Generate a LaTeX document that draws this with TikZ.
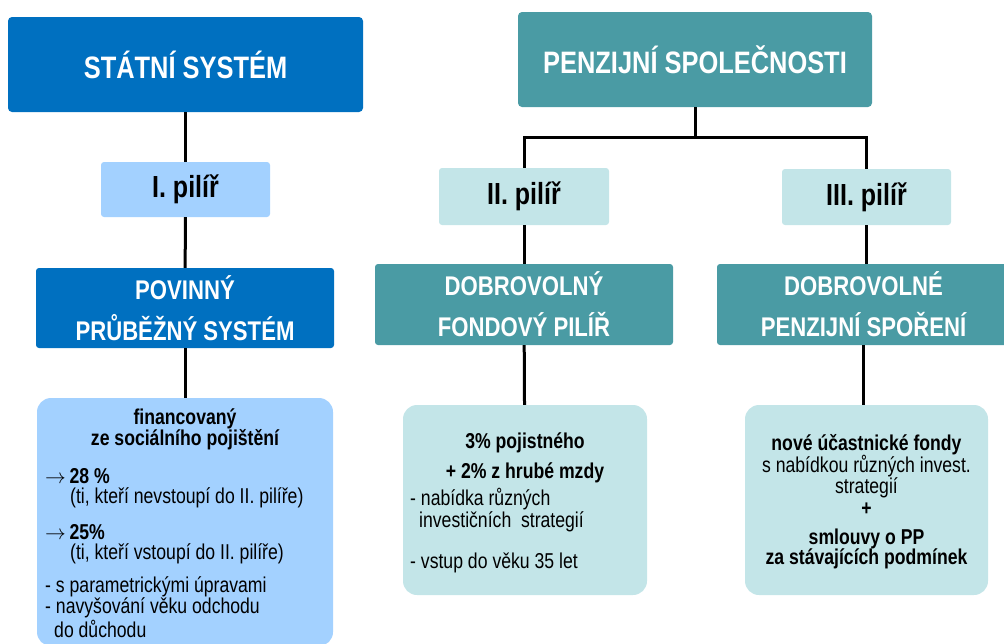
\documentclass[tikz,border=0pt]{standalone}
\usepackage{fontspec}
\setmainfont{Liberation Sans}[FakeStretch=0.82]
\usepackage{tikz}

\definecolor{modra}{HTML}{0070C0}
\definecolor{svetlemodra}{HTML}{A3D1FF}
\definecolor{tyrkys}{HTML}{4A9BA4}
\definecolor{svetletyrkys}{HTML}{C3E5E8}

\begin{document}
\begin{tikzpicture}[x=1pt,y=-1pt,
  hlava/.style={fill=#1, text=white, inner sep=0pt, rounded corners=4pt,
    font=\bfseries\fontsize{31}{36}\selectfont},
  pilir/.style={fill=#1, inner sep=0pt, rounded corners=3pt,
    font=\bfseries\fontsize{30.5}{34}\selectfont},
  system/.style={fill=#1, text=white, inner sep=0pt, rounded corners=3pt, align=center,
    font=\bfseries\fontsize{27}{41}\selectfont},
  obsah/.style={fill=#1, inner sep=0pt, rounded corners=14pt},
  txt/.style={inner sep=0pt, font=\fontsize{21.5}{20}\selectfont},
  spoj/.style={line width=3pt}]
\useasboundingbox (0,0) rectangle (1004,643);

% statni pilir
\node[hlava=modra, minimum width=355, minimum height=95] (statni) at (185.5,64.5) {STÁTNÍ SYSTÉM};
\node[pilir=svetlemodra, minimum width=169, minimum height=55] (pilI) at (185.5,189.5) {I. pilíř};
\node[system=modra, minimum width=298, minimum height=80] (povinny) at (185,308) {POVINNÝ\\PRŮBĚŽNÝ SYSTÉM};
\node[obsah=svetlemodra, minimum width=296, minimum height=248] (finI) at (185,522) {};

% penzijni spolecnosti
\node[hlava=tyrkys, minimum width=354, minimum height=95] (penzijni) at (695,59.5) {PENZIJNÍ SPOLEČNOSTI};
\node[pilir=svetletyrkys, minimum width=170, minimum height=57] (pilII) at (524,196.5) {II. pilíř};
\node[pilir=svetletyrkys, minimum width=169, minimum height=56] (pilIII) at (866.5,197) {III. pilíř};
\node[system=tyrkys, minimum width=298, minimum height=81] (fondovy) at (524,304.5) {DOBROVOLNÝ\\FONDOVÝ PILÍŘ};
\node[system=tyrkys, minimum width=293, minimum height=81] (sporeni) at (863.5,304.5) {DOBROVOLNÉ\\PENZIJNÍ SPOŘENÍ};
\node[obsah=svetletyrkys, minimum width=244, minimum height=190] (finII) at (525,500) {};
\node[obsah=svetletyrkys, minimum width=243, minimum height=190] (finIII) at (866.5,500) {};

% spojnice
\draw[spoj] (statni) -- (pilI);
\draw[spoj] (pilI) -- (povinny);
\draw[spoj] (povinny.south) -- (povinny.south |- finI.north);
\draw[spoj] (penzijni.south) -- ++(0,30) coordinate (rozv);
\draw[spoj] (pilII.north) |- (rozv) -| (pilIII.north);
\draw[spoj] (pilII) -- (fondovy);
\draw[spoj] (pilIII.south) -- (pilIII.south |- sporeni.north);
\draw[spoj] (fondovy) -- (finII);
\draw[spoj] (sporeni.south) -- (sporeni.south |- finIII.north);

% texty v boxech
\node[txt, align=center, anchor=north, font=\bfseries\fontsize{21.5}{21}\selectfont] (hlI) at (185,409)
  {financovaný\\ze sociálního pojištění};
\node[txt, align=left, anchor=north west] (popI) at (45,468)
  {$\rightarrow$\,\textbf{28 \%}\\
   \hspace*{25pt}(ti, kteří nevstoupí do II. pilíře)\\[16pt]
   $\rightarrow$\,\textbf{25\%}\\
   \hspace*{25pt}(ti, kteří vstoupí do II. pilíře)\\[12pt]
   - s parametrickými úpravami\\
   - navyšování věku odchodu\\[1pt]
   \hspace*{9pt}do důchodu};

\node[txt, align=center, anchor=north, font=\bfseries\fontsize{21.5}{30}\selectfont] (hlII) at (525,433)
  {3\% pojistného\\+ 2\% z hrubé mzdy};
\node[txt, align=left, anchor=north west] (popII) at (410,488)
  {- nabídka různých\\[1pt]
   \hspace*{9pt}investičních\ \ strategií\\[20pt]
   - vstup do věku 35 let};

\node[txt, align=center, anchor=north] (popIII) at (866.5,434)
  {\textbf{nové účastnické fondy}\\[-1pt]
   s nabídkou různých invest.\\[0pt]
   strategií\\[2pt]
   \textbf{+}\\[9pt]
   \textbf{smlouvy o PP}\\[-1pt]
   \textbf{za stávajících podmínek}};
\end{tikzpicture}
\end{document}
